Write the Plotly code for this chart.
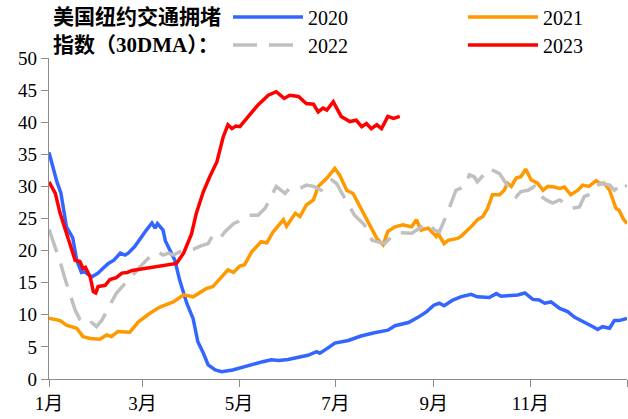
import plotly.graph_objects as go

# ---- data (day of year, value) ----
month_ticks = [0, 59, 120, 181, 243, 304, 365]
month_labels = ['1月', '3月', '5月', '7月', '9月', '11月', '']

d2020 = [0, 5, 7.5, 11, 15, 17.5, 20.5, 22.5, 27, 31, 34, 37.5, 41, 45, 48, 50, 54, 57.5, 61.5, 65, 67, 68.5, 72,
         73.5, 76.5, 79.5, 82.5, 87, 91, 94, 97.5, 100.5, 105, 109, 116, 120, 125, 130, 135, 140.5, 145, 151, 157,
         163.5, 169, 171, 176, 180.5, 189, 197, 205.5, 214, 218.5, 227, 233, 238.5, 243, 246.5, 249.5, 255, 260,
         266.5, 270.5, 278, 282.5, 285.5, 296, 300.5, 305.5, 309.5, 313, 317, 322.5, 327.5, 332, 338, 343.5, 346.5,
         349.5, 354, 357, 360, 365]
v2020 = [35.3, 30.7, 29.0, 23.7, 22.0, 18.5, 16.6, 16.7, 15.9, 16.5, 17.2, 18.0, 18.5, 19.6, 19.3, 19.6, 20.6, 21.9,
         23.2, 24.3, 23.5, 24.2, 23.2, 21.5, 20.1, 18.5, 15.4, 11.8, 9.4, 5.8, 4.0, 2.2, 1.4, 1.15, 1.4, 1.7, 2.0, 2.4,
         2.7, 3.0, 2.9, 3.05, 3.3, 3.7, 4.25, 4.0, 4.8, 5.6, 6.0, 6.7, 7.2, 7.6, 8.3, 8.8, 9.6, 10.5, 11.5, 11.8, 11.4,
         12.3, 12.8, 13.2, 12.8, 12.7, 13.3, 12.9, 13.1, 13.4, 12.4, 12.3, 11.8, 12.0, 11.0, 10.5, 9.6, 8.9, 8.15,
         7.7, 8.15, 7.9, 9.1, 9.1, 9.45]

d2021 = [0, 7, 11, 17.5, 21.5, 26, 32, 36.5, 39.5, 43.5, 51, 56.5, 63.5, 70, 78.5, 85, 91, 99.5, 103.5, 108, 113,
         116.5, 120.5, 123.5, 128, 134, 137.5, 141.5, 148, 150, 155.5, 158.5, 162.5, 167, 170, 175.5, 180.5, 183.5,
         188, 192, 196.5, 199.5, 203.5, 207, 211, 214, 218.5, 223.5, 229, 232, 235, 239.5, 244.5, 245.5, 249.5,
         252, 258, 260, 266.5, 270.5, 274, 277, 280, 284.5, 287.5, 289.5, 292, 295, 298, 301, 304.5, 308.5, 312,
         315, 319, 322.5, 325.5, 329.5, 334, 337, 341, 345.5, 348.5, 350.5, 354, 356, 358, 360, 362.5, 365]
v2021 = [9.45, 9.1, 8.4, 7.9, 6.6, 6.3, 6.2, 6.85, 6.6, 7.4, 7.3, 8.9, 10.2, 11.2, 12.0, 13.1, 12.8, 14.1, 14.4,
         15.7, 17.0, 16.6, 17.6, 17.8, 19.8, 21.4, 21.2, 22.9, 24.8, 23.8, 25.8, 25.3, 27.1, 27.9, 30.0, 31.3, 32.8,
         31.8, 29.4, 28.9, 26.8, 25.3, 23.5, 21.9, 20.9, 23.0, 23.7, 24.0, 23.7, 24.8, 23.2, 23.5, 22.2, 22.7, 21.1,
         21.6, 21.9, 22.2, 23.7, 24.8, 25.3, 26.6, 28.7, 28.7, 29.4, 30.5, 30.0, 31.3, 31.5, 32.7, 31.0, 30.5, 29.4,
         30.0, 29.9, 29.7, 29.9, 28.7, 29.4, 30.2, 30.0, 30.9, 30.4, 30.5, 29.4, 28.1, 26.6, 26.3, 25.0, 24.2]

d2022 = [0, 4, 7, 10, 13.5, 16.5, 19.5, 24, 27, 30, 33.5, 36.5, 39.5, 42.5, 47, 51, 55.5, 59.5, 63.5, 69, 72,
         75.5, 78.5, 85, 91, 95.5, 100.5, 103.5, 108, 111, 116.5, 120, 126, 132, 136.5, 139.5, 143.5, 149, 152,
         158.5, 162.5, 167, 172, 178.5, 181.5, 185.5, 190, 193, 198.5, 201.5, 204, 212, 216.5, 220.5, 229, 234,
         239.5, 243.5, 246.5, 251, 254, 257, 262.5, 265.5, 268.5, 270.5, 278, 281.5, 284.5, 288.5, 292, 295, 298,
         302.5, 306.5, 308, 314, 318, 322.5, 327.5, 330.5, 335, 338, 342.5, 345.5, 348.5, 354, 357, 360, 362.5, 365]
v2022 = [23.3, 20.6, 18.3, 15.7, 13.1, 10.75, 9.3, 8.4, 8.8, 8.15, 9.2, 10.75, 12.0, 13.35, 14.6, 15.7, 17.0, 18.0,
         19.0, 19.8, 19.3, 19.6, 19.3, 20.1, 20.2, 20.7, 21.1, 22.4, 21.9, 22.9, 24.2, 24.6, 25.5, 25.5, 26.6, 28.1,
         30.0, 28.9, 29.7, 29.7, 30.2, 30.0, 29.4, 31.0, 30.5, 28.7, 26.8, 25.5, 24.2, 23.2, 21.6, 21.1, 22.2, 22.8,
         22.7, 23.5, 24.3, 23.2, 22.9, 25.5, 27.4, 29.4, 30.0, 31.8, 31.5, 30.7, 32.8, 32.3, 32.0, 30.5, 29.4, 28.4,
         29.2, 29.4, 30.0, 28.9, 27.9, 27.4, 27.9, 27.1, 26.6, 26.8, 28.4, 28.9, 30.0, 30.5, 30.2, 29.4, 30.0, 29.4,
         30.2]

d2023 = [0, 4, 7, 10, 13.5, 16.5, 19.5, 21.5, 23, 26, 28, 29.5, 31, 35.5, 38.5, 42.5, 46, 49.5, 52.5, 80.5, 85,
         88, 90, 93, 97.5, 101.5, 106, 110, 113, 115.5, 118, 120.5, 124, 132, 138.5, 143.5, 148.5, 152, 157.5,
         162.5, 167, 170, 173, 175.5, 179.5, 184.5, 190, 194, 197.5, 200.5, 203.5, 207, 210, 214, 217.5, 221.5]
v2023 = [30.7, 28.9, 25.8, 23.5, 20.6, 18.5, 18.3, 17.2, 17.4, 15.9, 13.6, 13.4, 14.4, 14.6, 15.5, 15.8, 16.5,
         16.6, 16.9, 18.0, 19.6, 21.4, 22.6, 25.8, 29.2, 31.5, 33.8, 37.7, 39.6, 39.0, 39.4, 39.3, 40.3, 42.7, 44.2,
         44.75, 43.7, 44.2, 44.0, 42.9, 42.8, 41.6, 42.2, 41.9, 43.2, 40.9, 40.1, 40.3, 39.3, 39.8, 39.0, 39.6, 39.0,
         40.9, 40.6, 40.9]

fig = go.Figure()
lw = 3.5
fig.add_trace(go.Scatter(x=d2020, y=v2020, name='2020', mode='lines',
                         line=dict(color='#3366FF', width=lw), legend='legend'))
fig.add_trace(go.Scatter(x=d2021, y=v2021, name='2021', mode='lines',
                         line=dict(color='#FF9900', width=lw), legend='legend2'))
fig.add_trace(go.Scatter(x=d2022, y=v2022, name='2022', mode='lines',
                         line=dict(color='#C0C0C0', width=lw, dash='24px,12px'), legend='legend3'))
fig.add_trace(go.Scatter(x=d2023, y=v2023, name='2023', mode='lines',
                         line=dict(color='#FF0000', width=lw), legend='legend4'))

serif = 'Times New Roman, Liberation Serif, Noto Sans CJK SC'


def leg(xpx, ypx):
    return dict(orientation='h', xref='container', yref='container', x=xpx / 628, xanchor='left',
                y=1 - ypx / 419, yanchor='middle', itemwidth=70, visible=True,
                font=dict(family=serif, size=20, color='black'), bgcolor='rgba(0,0,0,0)',
                borderwidth=0)


fig.update_layout(
    width=628, height=419, autosize=False,
    showlegend=True,
    margin=dict(l=49, r=1, t=58, b=40, autoexpand=False),
    paper_bgcolor='white', plot_bgcolor='white',
    font=dict(family=serif, size=19, color='black'),
    legend=leg(228, 17),
    legend2=leg(463, 17),
    legend3=leg(228, 45),
    legend4=leg(463, 45),
    xaxis=dict(range=[0, 365], tickmode='array', tickvals=month_ticks, ticktext=month_labels,
               showline=True, linecolor='#8c8c8c', linewidth=1.3, ticks='outside', ticklen=7,
               tickcolor='#8c8c8c', showgrid=False, zeroline=False,
               tickfont=dict(family=serif, size=19)),
    yaxis=dict(range=[0, 50], dtick=5, showline=True, linecolor='#8c8c8c', linewidth=1.3,
               ticks='outside', ticklen=7, tickcolor='#8c8c8c', showgrid=False, zeroline=False,
               tickfont=dict(family=serif, size=19)),
    annotations=[
        dict(text='<b>美国纽约交通拥堵</b>', xref='paper', yref='paper', x=(51 - 49) / 578.3, y=1 + (58 - 17) / 321,
             xanchor='left', yanchor='middle', showarrow=False, font=dict(family=serif, size=21, color='black')),
        dict(text='<b>指数（30DMA）：</b>', xref='paper', yref='paper', x=(51 - 49) / 578.3, y=1 + (58 - 45) / 321,
             xanchor='left', yanchor='middle', showarrow=False, font=dict(family=serif, size=21, color='black')),
    ],
)

fig.write_html('out.html', config={'displayModeBar': False},
               post_script="document.body.style.margin='0';document.body.style.padding='0';")
